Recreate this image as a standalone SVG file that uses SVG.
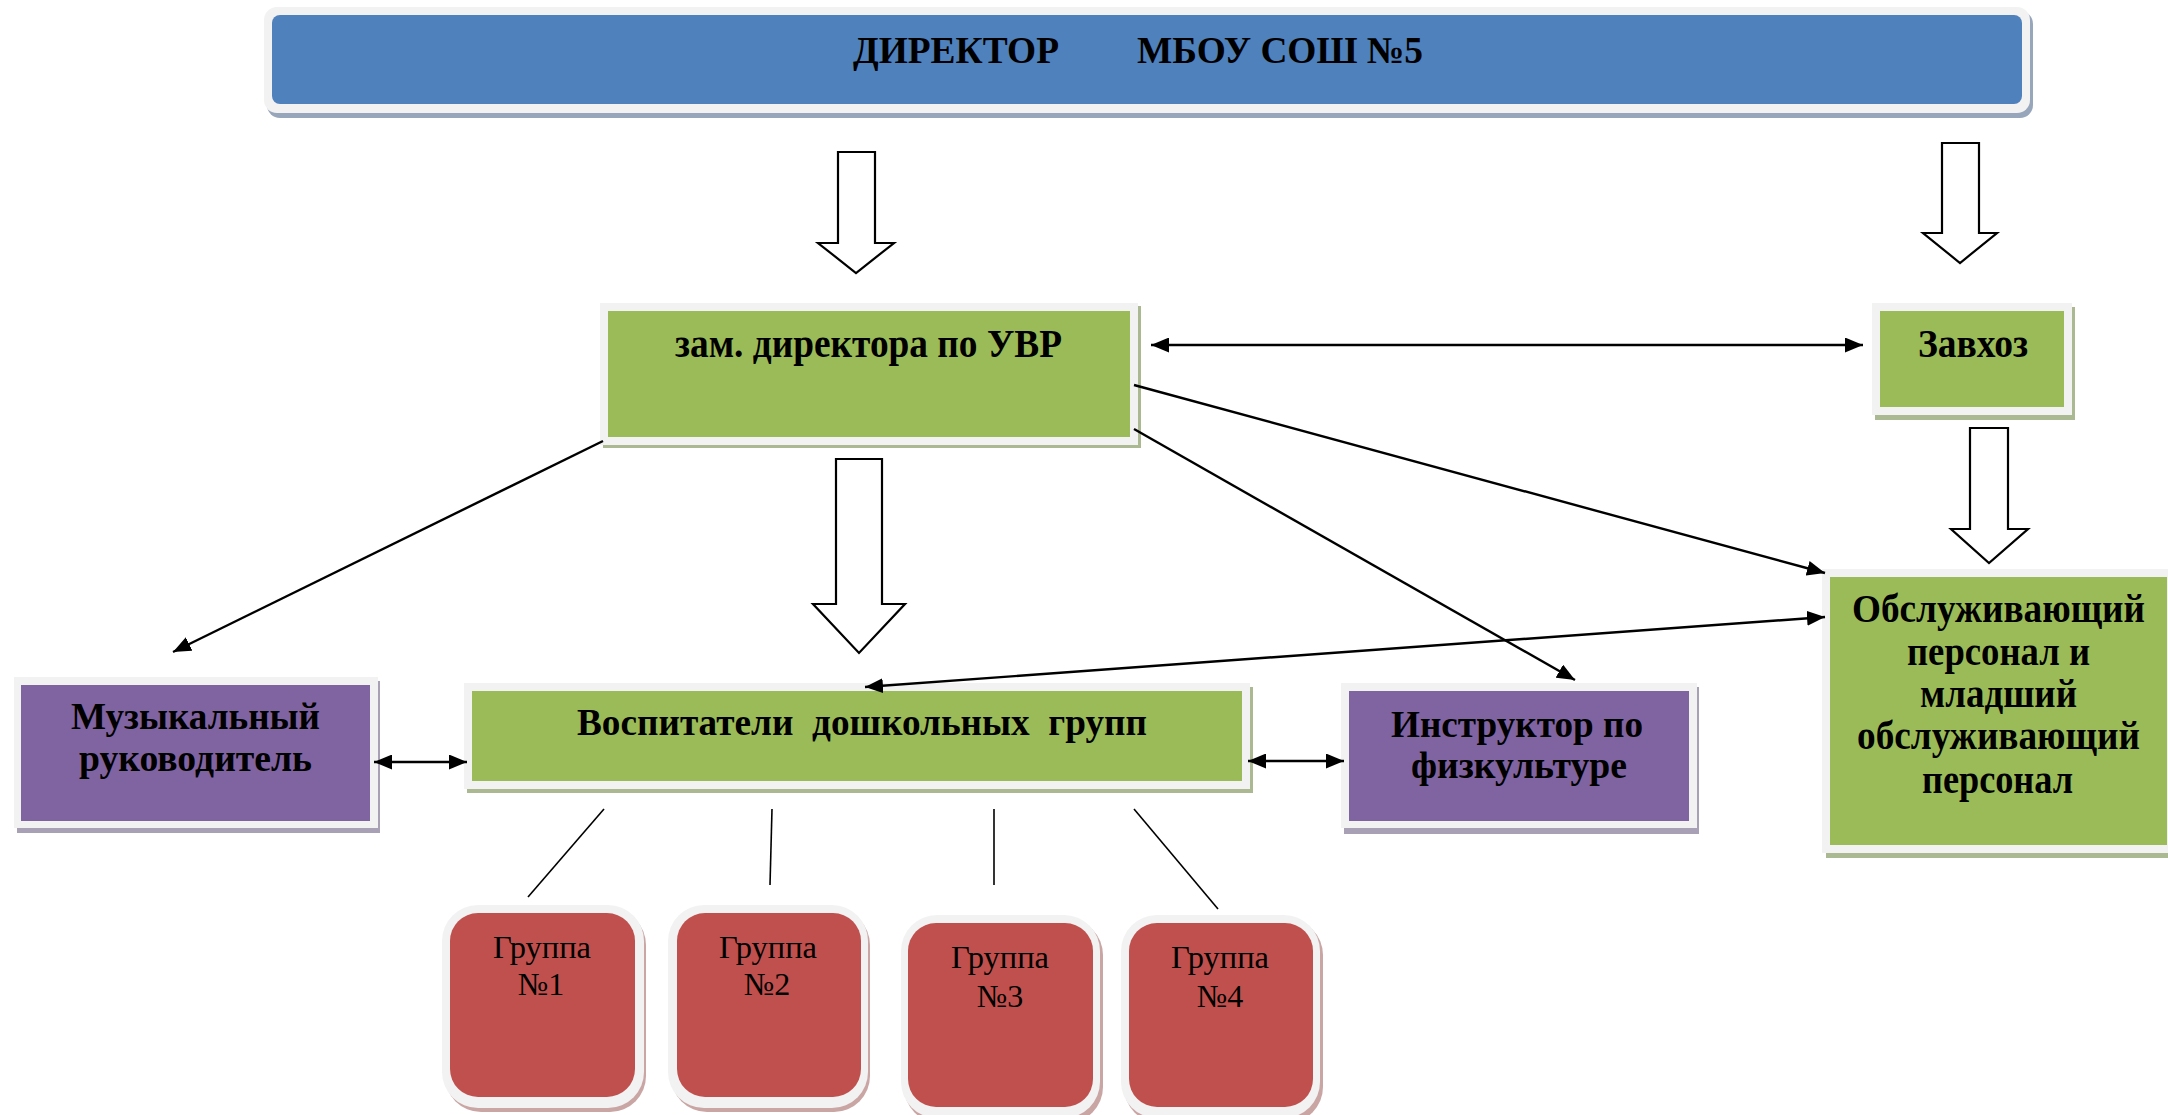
<svg xmlns="http://www.w3.org/2000/svg" width="2168" height="1115" viewBox="0 0 2168 1115">
<style>
.frame{fill:#F2F2F2}
.blue{fill:#4F81BD}
.green{fill:#9BBB59}
.purple{fill:#8064A2}
.red{fill:#C0504D}
.shb{fill:#98A6BB}
.shg{fill:#AAB992}
.shp{fill:#A8A1B5}
.shr{fill:#C9A5A4}
.t{font-family:"Liberation Serif","Times New Roman",serif;font-weight:bold;fill:#000}
.g{font-family:"Liberation Serif","Times New Roman",serif;font-weight:normal;fill:#000;font-size:32px}
.block{fill:#fff;stroke:#000;stroke-width:2.2}
.con{stroke:#000;stroke-width:2.4;fill:none}
.thin{stroke:#000;stroke-width:1.6;fill:none}
</style>
<defs>
<marker id="ah" viewBox="0 0 18 15" refX="18" refY="7.5" markerWidth="18" markerHeight="15" orient="auto-start-reverse" markerUnits="userSpaceOnUse">
<path d="M0,0 L18,7.5 L0,15 z" fill="#000"/>
</marker>
</defs>
<rect width="2168" height="1115" fill="#fff"/>

<g id="director">
<rect class="shb" x="267" y="11" width="1766" height="107" rx="13"/>
<rect class="frame" x="264" y="7" width="1766" height="106" rx="13"/>
<rect class="blue" x="272" y="15" width="1750" height="89" rx="8"/>
<text class="t" x="853" y="63" font-size="38" textLength="206" lengthAdjust="spacingAndGlyphs">ДИРЕКТОР</text>
<text class="t" x="1137" y="63" font-size="38" textLength="286" lengthAdjust="spacingAndGlyphs">МБОУ СОШ №5</text>
</g>

<g id="zam">
<rect class="shg" x="603" y="306" width="538" height="142"/>
<rect class="frame" x="600" y="303" width="538" height="142"/>
<rect class="green" x="608" y="311" width="522" height="126"/>
<text class="t" x="675" y="357" font-size="40" textLength="387" lengthAdjust="spacingAndGlyphs">зам. директора по УВР</text>
</g>

<g id="zavhoz">
<rect class="shg" x="1875" y="307" width="200" height="113"/>
<rect class="frame" x="1872" y="303" width="200" height="112"/>
<rect class="green" x="1880" y="311" width="184" height="96"/>
<text class="t" x="1918" y="357" font-size="40" textLength="110" lengthAdjust="spacingAndGlyphs">Завхоз</text>
</g>

<g id="obsl">
<rect class="shg" x="1826" y="573" width="345" height="285"/>
<rect class="frame" x="1822" y="569" width="346" height="284"/>
<rect class="green" x="1830" y="577" width="337" height="268"/>
<text class="t" x="1852" y="622" font-size="40" textLength="293" lengthAdjust="spacingAndGlyphs">Обслуживающий</text>
<text class="t" x="1907" y="665" font-size="40" textLength="183" lengthAdjust="spacingAndGlyphs">персонал и</text>
<text class="t" x="1920" y="707" font-size="40" textLength="157" lengthAdjust="spacingAndGlyphs">младший</text>
<text class="t" x="1857" y="749" font-size="40" textLength="283" lengthAdjust="spacingAndGlyphs">обслуживающий</text>
<text class="t" x="1922" y="793" font-size="40" textLength="151" lengthAdjust="spacingAndGlyphs">персонал</text>
</g>

<g id="music">
<rect class="shp" x="17" y="681" width="363" height="152"/>
<rect class="frame" x="14" y="677" width="364" height="151"/>
<rect class="purple" x="21" y="685" width="349" height="136"/>
<text class="t" x="71" y="729" font-size="38" textLength="249" lengthAdjust="spacingAndGlyphs">Музыкальный</text>
<text class="t" x="79" y="771" font-size="38" textLength="233" lengthAdjust="spacingAndGlyphs">руководитель</text>
</g>

<g id="vosp">
<rect class="shg" x="467" y="687" width="786" height="106"/>
<rect class="frame" x="464" y="683" width="786" height="106"/>
<rect class="green" x="472" y="691" width="770" height="90"/>
<text class="t" x="577" y="735" font-size="38" textLength="570" lengthAdjust="spacingAndGlyphs" xml:space="preserve">Воспитатели  дошкольных  групп</text>
</g>

<g id="instr">
<rect class="shp" x="1344" y="687" width="355" height="147"/>
<rect class="frame" x="1341" y="683" width="356" height="145"/>
<rect class="purple" x="1349" y="691" width="340" height="130"/>
<text class="t" x="1391" y="737" font-size="38" textLength="252" lengthAdjust="spacingAndGlyphs">Инструктор по</text>
<text class="t" x="1411" y="778" font-size="38" textLength="216" lengthAdjust="spacingAndGlyphs">физкультуре</text>
</g>

<g id="group1">
<rect class="shr" x="445" y="909" width="201" height="203" rx="36"/>
<rect class="frame" x="442" y="905" width="202" height="203" rx="36"/>
<rect class="red" x="450" y="913" width="185" height="184" rx="28"/>
<text class="g" x="542" y="958" text-anchor="middle" textLength="98" lengthAdjust="spacingAndGlyphs">Группа</text>
<text class="g" x="541" y="995" text-anchor="middle">№1</text>
</g>
<g id="group2">
<rect class="shr" x="671" y="909" width="199" height="203" rx="36"/>
<rect class="frame" x="668" y="905" width="200" height="203" rx="36"/>
<rect class="red" x="677" y="913" width="184" height="184" rx="28"/>
<text class="g" x="768" y="958" text-anchor="middle" textLength="98" lengthAdjust="spacingAndGlyphs">Группа</text>
<text class="g" x="767" y="995" text-anchor="middle">№2</text>
</g>
<g id="group3">
<rect class="shr" x="904" y="919" width="199" height="204" rx="36"/>
<rect class="frame" x="901" y="915" width="199" height="203" rx="36"/>
<rect class="red" x="908" y="923" width="185" height="184" rx="28"/>
<text class="g" x="1000" y="968" text-anchor="middle" textLength="98" lengthAdjust="spacingAndGlyphs">Группа</text>
<text class="g" x="1000" y="1007" text-anchor="middle">№3</text>
</g>
<g id="group4">
<rect class="shr" x="1124" y="919" width="199" height="204" rx="36"/>
<rect class="frame" x="1121" y="915" width="199" height="203" rx="36"/>
<rect class="red" x="1129" y="923" width="184" height="184" rx="28"/>
<text class="g" x="1220" y="968" text-anchor="middle" textLength="98" lengthAdjust="spacingAndGlyphs">Группа</text>
<text class="g" x="1220" y="1007" text-anchor="middle">№4</text>
</g>

<g id="connectors">
<polygon class="block" points="838,152 875,152 875,243 894,243 856,273 818,243 838,243"/>
<polygon class="block" points="1942,143 1979,143 1979,233 1997,233 1960,263 1923,233 1942,233"/>
<polygon class="block" points="1970,428 2008,428 2008,529 2028,529 1989,563 1951,529 1970,529"/>
<polygon class="block" points="836,459 882,459 882,604 905,604 859,653 813,604 836,604"/>
<line class="con" x1="1151" y1="345" x2="1863" y2="345" marker-start="url(#ah)" marker-end="url(#ah)"/>
<line class="con" x1="603" y1="441" x2="173" y2="652" marker-end="url(#ah)"/>
<line class="con" x1="1134" y1="385" x2="1825" y2="573" marker-end="url(#ah)"/>
<line class="con" x1="1134" y1="429" x2="1575" y2="680" marker-end="url(#ah)"/>
<line class="con" x1="1825" y1="617" x2="865" y2="687" marker-start="url(#ah)" marker-end="url(#ah)"/>
<line class="con" x1="374" y1="762" x2="467" y2="762" marker-start="url(#ah)" marker-end="url(#ah)"/>
<line class="con" x1="1248" y1="761" x2="1344" y2="761" marker-start="url(#ah)" marker-end="url(#ah)"/>
<line class="thin" x1="604" y1="809" x2="528" y2="897"/>
<line class="thin" x1="772" y1="809" x2="770" y2="885"/>
<line class="thin" x1="994" y1="809" x2="994" y2="885"/>
<line class="thin" x1="1134" y1="809" x2="1218" y2="909"/>
</g>
</svg>
